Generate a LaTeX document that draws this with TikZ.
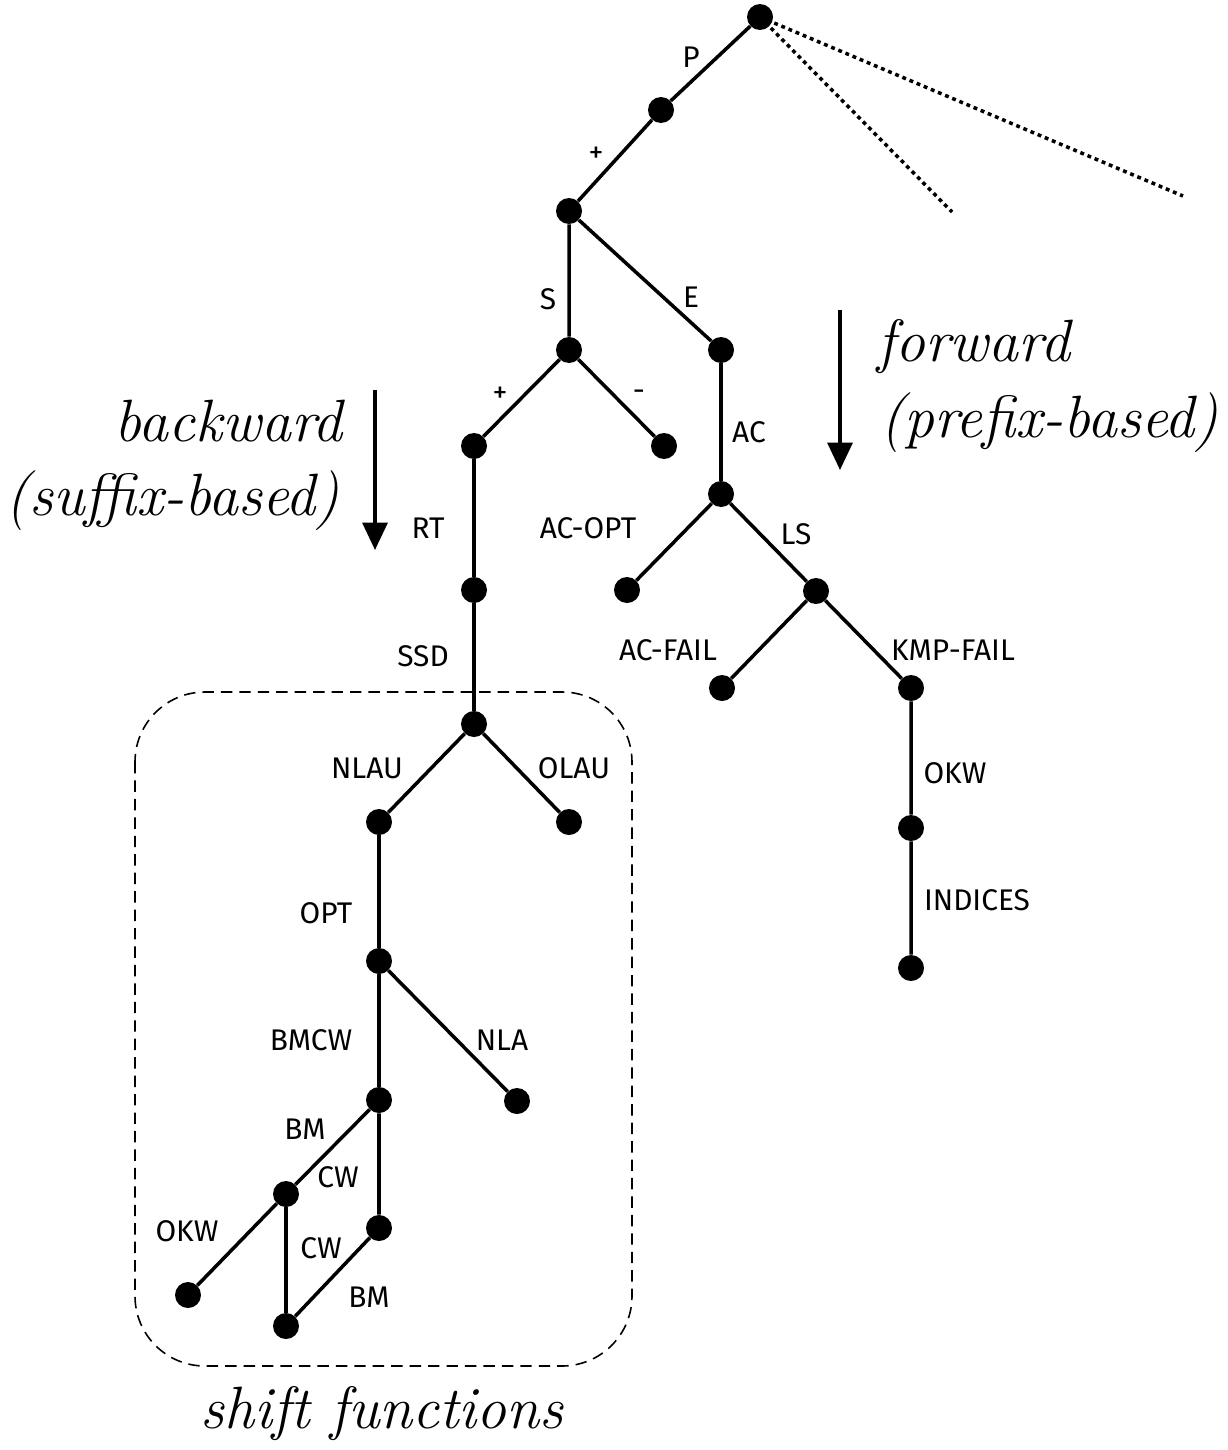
\documentclass[tikz,border=0pt]{standalone}
\usepackage{fontspec}
\setsansfont{Fira Sans}
\usetikzlibrary{arrows.meta}
\begin{document}
\begin{tikzpicture}[x=0.02cm,y=-0.02cm,
  dot/.style={circle,fill=black,inner sep=0pt,minimum size=0.52cm},
  edge/.style={line width=2pt},
  lbl/.style={font=\sffamily\fontsize{17}{20}\selectfont,inner sep=0pt},
  big/.style={font=\itshape\fontsize{34}{40}\selectfont,inner sep=0pt},
  dir/.style={line width=2pt,-{Triangle[length=0.55cm,width=0.5cm]}}]
\useasboundingbox (0,0) rectangle (1227,1450);
% nodes
\node[dot] (r) at (760,17) {};
\node[dot] (n1) at (661,110) {};
\node[dot] (n2) at (569,211) {};
\node[dot] (s) at (569,350) {};
\node[dot] (e) at (721,350) {};
\node[dot] (sp) at (474,446) {};
\node[dot] (sm) at (664,446) {};
\node[dot] (rt) at (474,590) {};
\node[dot] (ssd) at (474,724) {};
\node[dot] (nlau) at (379,822) {};
\node[dot] (olau) at (569,822) {};
\node[dot] (opt) at (379,961) {};
\node[dot] (nla) at (517,1101) {};
\node[dot] (bmcw) at (379,1100) {};
\node[dot] (bm1) at (286,1194) {};
\node[dot] (cw1) at (379,1228) {};
\node[dot] (okw1) at (188,1295) {};
\node[dot] (bot) at (286,1326) {};
\node[dot] (ac) at (721,494) {};
\node[dot] (acopt) at (627,590) {};
\node[dot] (ls) at (816,591) {};
\node[dot] (acfail) at (722,688) {};
\node[dot] (kmp) at (911,688) {};
\node[dot] (okw2) at (911,828) {};
\node[dot] (ind) at (911,968) {};
\coordinate (d1) at (952,212);
\coordinate (d2) at (1183,196);
% edges
\draw[edge] (r) -- (n1) -- (n2) -- (s);
\draw[edge] (n2) -- (e);
\draw[edge] (s) -- (sp);
\draw[edge] (s) -- (sm);
\draw[edge] (sp) -- (rt) -- (ssd);
\draw[edge] (ssd) -- (nlau);
\draw[edge] (ssd) -- (olau);
\draw[edge] (nlau) -- (opt);
\draw[edge] (opt) -- (bmcw);
\draw[edge] (opt) -- (nla);
\draw[edge] (bmcw) -- (bm1) -- (okw1);
\draw[edge] (bmcw) -- (cw1) -- (bot);
\draw[edge] (bm1) -- (bot);
\draw[edge] (e) -- (ac);
\draw[edge] (ac) -- (acopt);
\draw[edge] (ac) -- (ls);
\draw[edge] (ls) -- (acfail);
\draw[edge] (ls) -- (kmp) -- (okw2) -- (ind);
\draw[line width=2pt,dash pattern=on 2.2pt off 2.2pt] (r.center) -- (d1);
\draw[line width=2pt,dash pattern=on 2.2pt off 2.2pt] (r.center) -- (d2);
% edge labels
\node[lbl] (lP) at (691,57) {P};
\node[lbl] (l1) at (596,155) {+};
\node[lbl] (lS) at (548,299) {S};
\node[lbl] (lE) at (691,297) {E};
\node[lbl] (l2) at (500,395) {+};
\node[lbl] (l3) at (639,395) {-};
\node[lbl] (lAC) at (749,432) {AC};
\node[lbl] (lRT) at (428,528) {RT};
\node[lbl] (lACOPT) at (588,528) {AC-OPT};
\node[lbl] (lLS) at (796,534) {LS};
\node[lbl] (lSSD) at (423,656) {SSD};
\node[lbl] (lACF) at (668,650) {AC-FAIL};
\node[lbl] (lKMP) at (953,650) {KMP-FAIL};
\node[lbl] (lNLAU) at (367,768) {NLAU};
\node[lbl] (lOLAU) at (574,768) {OLAU};
\node[lbl] (lOKW2) at (955,773) {OKW};
\node[lbl] (lOPT) at (326,913) {OPT};
\node[lbl] (lIND) at (977,900) {INDICES};
\node[lbl] (lBMCW) at (311,1040) {BMCW};
\node[lbl] (lNLA) at (502,1040) {NLA};
\node[lbl] (lBM1) at (305,1129) {BM};
\node[lbl] (lCW1) at (338,1177) {CW};
\node[lbl] (lOKW1) at (187,1231) {OKW};
\node[lbl] (lCW2) at (321,1248) {CW};
\node[lbl] (lBM2) at (369,1297) {BM};
% side texts
\node[big,anchor=base west] (fw) at (877,361) {forward};
\node[big,anchor=base west] (pb) at (880,437) {(prefix-based)};
\node[big,anchor=base east] (bw) at (343,441) {backward};
\node[big,anchor=base east] (sb) at (340,515) {(suffix-based)};
\node[big,anchor=base] (sf) at (382,1428) {shift functions};
\coordinate (fa1) at (840,310);
\coordinate (fa2) at (840,470);
\coordinate (ba1) at (375,390);
\coordinate (ba2) at (375,550);
\draw[dir] (fa1) -- (fa2);
\draw[dir] (ba1) -- (ba2);
% box
\draw[line width=0.9pt,dash pattern=on 6.5pt off 4pt,rounded corners=1.4cm] (135,692) rectangle (632,1366);
\end{tikzpicture}
\end{document}
